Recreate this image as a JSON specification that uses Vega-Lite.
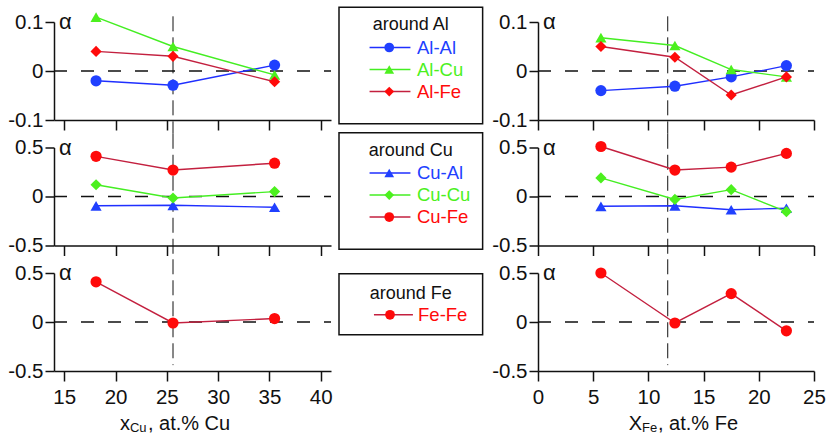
{
  "$schema": "https://vega.github.io/schema/vega-lite/v6.json",
  "padding": {"left": 7, "top": 6, "right": 5, "bottom": 0},
  "columns": 3,
  "spacing": {"row": 27.5, "column": 8},
  "bounds": "flush",
  "align": "each",
  "resolve": {"scale": {"x": "independent", "y": "independent"}},
  "datasets": {
    "alpha": [
      {"comp": "Cu", "center": "Al", "pair": "Al-Al", "partner": "Al", "x": 18.1, "alpha": -0.02},
      {"comp": "Cu", "center": "Al", "pair": "Al-Al", "partner": "Al", "x": 25.6, "alpha": -0.029},
      {"comp": "Cu", "center": "Al", "pair": "Al-Al", "partner": "Al", "x": 35.5, "alpha": 0.012},
      {"comp": "Cu", "center": "Al", "pair": "Al-Cu", "partner": "Cu", "x": 18.1, "alpha": 0.11},
      {"comp": "Cu", "center": "Al", "pair": "Al-Cu", "partner": "Cu", "x": 25.6, "alpha": 0.05},
      {"comp": "Cu", "center": "Al", "pair": "Al-Cu", "partner": "Cu", "x": 35.5, "alpha": -0.008},
      {"comp": "Cu", "center": "Al", "pair": "Al-Fe", "partner": "Fe", "x": 18.1, "alpha": 0.04},
      {"comp": "Cu", "center": "Al", "pair": "Al-Fe", "partner": "Fe", "x": 25.6, "alpha": 0.03},
      {"comp": "Cu", "center": "Al", "pair": "Al-Fe", "partner": "Fe", "x": 35.5, "alpha": -0.022},
      {"comp": "Cu", "center": "Cu", "pair": "Cu-Al", "partner": "Al", "x": 18.1, "alpha": -0.095},
      {"comp": "Cu", "center": "Cu", "pair": "Cu-Al", "partner": "Al", "x": 25.6, "alpha": -0.09},
      {"comp": "Cu", "center": "Cu", "pair": "Cu-Al", "partner": "Al", "x": 35.5, "alpha": -0.11},
      {"comp": "Cu", "center": "Cu", "pair": "Cu-Cu", "partner": "Cu", "x": 18.1, "alpha": 0.12},
      {"comp": "Cu", "center": "Cu", "pair": "Cu-Cu", "partner": "Cu", "x": 25.6, "alpha": -0.015},
      {"comp": "Cu", "center": "Cu", "pair": "Cu-Cu", "partner": "Cu", "x": 35.5, "alpha": 0.05},
      {"comp": "Cu", "center": "Cu", "pair": "Cu-Fe", "partner": "Fe", "x": 18.1, "alpha": 0.41},
      {"comp": "Cu", "center": "Cu", "pair": "Cu-Fe", "partner": "Fe", "x": 25.6, "alpha": 0.27},
      {"comp": "Cu", "center": "Cu", "pair": "Cu-Fe", "partner": "Fe", "x": 35.5, "alpha": 0.34},
      {"comp": "Cu", "center": "Fe", "pair": "Fe-Fe", "partner": "Fe", "x": 18.1, "alpha": 0.41},
      {"comp": "Cu", "center": "Fe", "pair": "Fe-Fe", "partner": "Fe", "x": 25.6, "alpha": -0.01},
      {"comp": "Cu", "center": "Fe", "pair": "Fe-Fe", "partner": "Fe", "x": 35.5, "alpha": 0.035},
      {"comp": "Fe", "center": "Al", "pair": "Al-Al", "partner": "Al", "x": 5.7, "alpha": -0.04},
      {"comp": "Fe", "center": "Al", "pair": "Al-Al", "partner": "Al", "x": 12.4, "alpha": -0.031},
      {"comp": "Fe", "center": "Al", "pair": "Al-Al", "partner": "Al", "x": 17.5, "alpha": -0.012},
      {"comp": "Fe", "center": "Al", "pair": "Al-Al", "partner": "Al", "x": 22.5, "alpha": 0.011},
      {"comp": "Fe", "center": "Al", "pair": "Al-Cu", "partner": "Cu", "x": 5.7, "alpha": 0.068},
      {"comp": "Fe", "center": "Al", "pair": "Al-Cu", "partner": "Cu", "x": 12.4, "alpha": 0.052},
      {"comp": "Fe", "center": "Al", "pair": "Al-Cu", "partner": "Cu", "x": 17.5, "alpha": 0.003},
      {"comp": "Fe", "center": "Al", "pair": "Al-Cu", "partner": "Cu", "x": 22.5, "alpha": -0.012},
      {"comp": "Fe", "center": "Al", "pair": "Al-Fe", "partner": "Fe", "x": 5.7, "alpha": 0.05},
      {"comp": "Fe", "center": "Al", "pair": "Al-Fe", "partner": "Fe", "x": 12.4, "alpha": 0.028},
      {"comp": "Fe", "center": "Al", "pair": "Al-Fe", "partner": "Fe", "x": 17.5, "alpha": -0.049},
      {"comp": "Fe", "center": "Al", "pair": "Al-Fe", "partner": "Fe", "x": 22.5, "alpha": -0.012},
      {"comp": "Fe", "center": "Cu", "pair": "Cu-Al", "partner": "Al", "x": 5.7, "alpha": -0.1},
      {"comp": "Fe", "center": "Cu", "pair": "Cu-Al", "partner": "Al", "x": 12.4, "alpha": -0.095},
      {"comp": "Fe", "center": "Cu", "pair": "Cu-Al", "partner": "Al", "x": 17.5, "alpha": -0.135},
      {"comp": "Fe", "center": "Cu", "pair": "Cu-Al", "partner": "Al", "x": 22.5, "alpha": -0.12},
      {"comp": "Fe", "center": "Cu", "pair": "Cu-Cu", "partner": "Cu", "x": 5.7, "alpha": 0.19},
      {"comp": "Fe", "center": "Cu", "pair": "Cu-Cu", "partner": "Cu", "x": 12.4, "alpha": -0.03},
      {"comp": "Fe", "center": "Cu", "pair": "Cu-Cu", "partner": "Cu", "x": 17.5, "alpha": 0.07},
      {"comp": "Fe", "center": "Cu", "pair": "Cu-Cu", "partner": "Cu", "x": 22.5, "alpha": -0.155},
      {"comp": "Fe", "center": "Cu", "pair": "Cu-Fe", "partner": "Fe", "x": 5.7, "alpha": 0.51},
      {"comp": "Fe", "center": "Cu", "pair": "Cu-Fe", "partner": "Fe", "x": 12.4, "alpha": 0.27},
      {"comp": "Fe", "center": "Cu", "pair": "Cu-Fe", "partner": "Fe", "x": 17.5, "alpha": 0.3},
      {"comp": "Fe", "center": "Cu", "pair": "Cu-Fe", "partner": "Fe", "x": 22.5, "alpha": 0.44},
      {"comp": "Fe", "center": "Fe", "pair": "Fe-Fe", "partner": "Fe", "x": 5.7, "alpha": 0.5},
      {"comp": "Fe", "center": "Fe", "pair": "Fe-Fe", "partner": "Fe", "x": 12.4, "alpha": -0.01},
      {"comp": "Fe", "center": "Fe", "pair": "Fe-Fe", "partner": "Fe", "x": 17.5, "alpha": 0.29},
      {"comp": "Fe", "center": "Fe", "pair": "Fe-Fe", "partner": "Fe", "x": 22.5, "alpha": -0.09}
    ],
    "legend": [
      {"center": "Al", "pair": "Al-Al", "partner": "Al", "order": 1},
      {"center": "Al", "pair": "Al-Cu", "partner": "Cu", "order": 2},
      {"center": "Al", "pair": "Al-Fe", "partner": "Fe", "order": 3},
      {"center": "Cu", "pair": "Cu-Al", "partner": "Al", "order": 1},
      {"center": "Cu", "pair": "Cu-Cu", "partner": "Cu", "order": 2},
      {"center": "Cu", "pair": "Cu-Fe", "partner": "Fe", "order": 3},
      {"center": "Fe", "pair": "Fe-Fe", "partner": "Fe", "order": 1}
    ],
    "titles": [
      {"center": "Al", "title": "around Al"},
      {"center": "Cu", "title": "around Cu"},
      {"center": "Fe", "title": "around Fe"}
    ]
  },
  "concat": [
    {
      "width": 277, "height": 98,
      "layer": [
        {"data": {"values": [{}]}, "mark": {"type": "rule", "color": "#111", "strokeWidth": 1.5, "strokeDash": [13, 14]}, "encoding": {"x": {"datum": 14}, "x2": {"datum": 41}, "y": {"datum": 0}}},
        {"data": {"values": [{}]}, "mark": {"type": "rule", "color": "#111", "strokeWidth": 1, "strokeDash": [15, 6]}, "encoding": {"x": {"datum": 25.6}, "y": {"datum": 0.1116}, "y2": {"datum": -0.128}}},
        {"data": {"name": "alpha"}, "transform": [{"filter": "datum.comp == 'Cu' && datum.center == 'Al'"}],
          "mark": {"type": "line", "strokeWidth": 1.4},
          "encoding": {
            "x": {"field": "x", "type": "quantitative", "title": null, "scale": {"domain": [14, 41], "nice": false, "zero": false},
              "axis": {"title": null, "labels": false, "values": [15, 17.5, 20, 22.5, 25, 27.5, 30, 32.5, 35, 37.5, 40], "tickSize": {"condition": {"test": "datum.value % 5 == 0", "value": 10}, "value": 6}}},
            "y": {"field": "alpha", "type": "quantitative", "title": null, "scale": {"domain": [-0.1, 0.1], "nice": false, "zero": false},
              "axis": {"title": null, "values": [-0.1, -0.05, 0, 0.05, 0.1], "labelPadding": 2, "labelExpr": "abs(datum.value*10 - round(datum.value*10)) < 0.000001 ? '' + datum.value : ''", "tickSize": {"condition": {"test": "abs(datum.value*10 - round(datum.value*10)) < 0.000001", "value": 9}, "value": 5}}},
            "stroke": {"field": "partner", "type": "nominal", "scale": {"domain": ["Al", "Cu", "Fe"], "range": ["#1f2fff", "#44ee22", "#c3203f"]}, "legend": null},
            "detail": {"field": "pair"}
          }},
        {"data": {"name": "alpha"}, "transform": [{"filter": "datum.comp == 'Cu' && datum.center == 'Al'"}],
          "mark": {"type": "point", "filled": true, "size": 125, "opacity": 1, "strokeWidth": 0},
          "encoding": {
            "x": {"field": "x", "type": "quantitative", "title": null},
            "y": {"field": "alpha", "type": "quantitative", "title": null},
            "shape": {"field": "pair", "type": "nominal", "scale": {"domain": ["Al-Al", "Al-Cu", "Al-Fe", "Cu-Al", "Cu-Cu", "Cu-Fe", "Fe-Fe"], "range": ["circle", "triangle-up", "diamond", "triangle-up", "diamond", "circle", "circle"]}, "legend": null},
            "color": {"field": "partner", "type": "nominal", "scale": {"domain": ["Al", "Cu", "Fe"], "range": ["#2040ff", "#4cf01e", "#ff0a0a"]}, "legend": null}
          }},
        {"data": {"values": [{}]}, "mark": {"type": "text", "text": "α", "fontSize": 22, "align": "left", "baseline": "middle", "dx": 5}, "encoding": {"x": {"datum": 14}, "y": {"datum": 0.1}}}
      ]
    },
    {
      "width": 191, "height": 98,
      "layer": [
        {"data": {"values": [{}]}, "mark": {"type": "rect", "fill": null, "stroke": "#111", "strokeWidth": 1.5},
          "encoding": {"x": {"datum": 0, "scale": {"domain": [0, 100], "nice": false, "zero": false}, "axis": null}, "x2": {"datum": 75.2}, "y": {"datum": -0.832, "scale": {"domain": [-0.159, 4.295], "reverse": true, "nice": false, "zero": false}, "axis": null}, "y2": {"datum": 4.468}}},
        {"data": {"name": "titles"}, "transform": [{"filter": "datum.center == 'Al'"}], "mark": {"type": "text", "fontSize": 18, "align": "center", "baseline": "middle"},
          "encoding": {"x": {"datum": 37.6, "axis": null}, "y": {"datum": 0, "axis": null}, "text": {"field": "title"}}},
        {"data": {"name": "legend"}, "transform": [{"filter": "datum.center == 'Al'"}], "mark": {"type": "rule", "strokeWidth": 1.5},
          "encoding": {"x": {"datum": 16, "axis": null}, "x2": {"datum": 37.4}, "y": {"field": "order", "type": "quantitative", "axis": null},
            "stroke": {"field": "partner", "type": "nominal", "scale": {"domain": ["Al", "Cu", "Fe"], "range": ["#1f2fff", "#44ee22", "#c3203f"]}, "legend": null}}},
        {"data": {"name": "legend"}, "transform": [{"filter": "datum.center == 'Al'"}], "mark": {"type": "point", "filled": true, "size": 95, "opacity": 1, "strokeWidth": 0},
          "encoding": {"x": {"datum": 26.3, "axis": null}, "y": {"field": "order", "type": "quantitative", "axis": null},
            "shape": {"field": "pair", "type": "nominal", "scale": {"domain": ["Al-Al", "Al-Cu", "Al-Fe", "Cu-Al", "Cu-Cu", "Cu-Fe", "Fe-Fe"], "range": ["circle", "triangle-up", "diamond", "triangle-up", "diamond", "circle", "circle"]}, "legend": null},
            "color": {"field": "partner", "type": "nominal", "scale": {"domain": ["Al", "Cu", "Fe"], "range": ["#2040ff", "#4cf01e", "#ff0a0a"]}, "legend": null}}},
        {"data": {"name": "legend"}, "transform": [{"filter": "datum.center == 'Al'"}], "mark": {"type": "text", "fontSize": 18.5, "align": "left", "baseline": "middle"},
          "encoding": {"x": {"datum": 40.8, "axis": null}, "y": {"field": "order", "type": "quantitative", "axis": null}, "text": {"field": "pair"},
            "color": {"field": "partner", "type": "nominal", "scale": {"domain": ["Al", "Cu", "Fe"], "range": ["#2040ff", "#4cf01e", "#ff0a0a"]}, "legend": null}}}
      ]
    },
    {
      "width": 276, "height": 98,
      "layer": [
        {"data": {"values": [{}]}, "mark": {"type": "rule", "color": "#111", "strokeWidth": 1.5, "strokeDash": [13, 14]}, "encoding": {"x": {"datum": 0}, "x2": {"datum": 25}, "y": {"datum": 0}}},
        {"data": {"values": [{}]}, "mark": {"type": "rule", "color": "#111", "strokeWidth": 1, "strokeDash": [15, 6]}, "encoding": {"x": {"datum": 11.75}, "y": {"datum": 0.1116}, "y2": {"datum": -0.128}}},
        {"data": {"name": "alpha"}, "transform": [{"filter": "datum.comp == 'Fe' && datum.center == 'Al'"}],
          "mark": {"type": "line", "strokeWidth": 1.4},
          "encoding": {
            "x": {"field": "x", "type": "quantitative", "title": null, "scale": {"domain": [0, 25], "nice": false, "zero": false},
              "axis": {"title": null, "labels": false, "values": [0, 2.5, 5, 7.5, 10, 12.5, 15, 17.5, 20, 22.5, 25], "tickSize": {"condition": {"test": "datum.value % 5 == 0", "value": 10}, "value": 6}}},
            "y": {"field": "alpha", "type": "quantitative", "title": null, "scale": {"domain": [-0.1, 0.1], "nice": false, "zero": false},
              "axis": {"title": null, "values": [-0.1, -0.05, 0, 0.05, 0.1], "labelPadding": 2, "labelExpr": "abs(datum.value*10 - round(datum.value*10)) < 0.000001 ? '' + datum.value : ''", "tickSize": {"condition": {"test": "abs(datum.value*10 - round(datum.value*10)) < 0.000001", "value": 9}, "value": 5}}},
            "stroke": {"field": "partner", "type": "nominal", "scale": {"domain": ["Al", "Cu", "Fe"], "range": ["#1f2fff", "#44ee22", "#c3203f"]}, "legend": null},
            "detail": {"field": "pair"}
          }},
        {"data": {"name": "alpha"}, "transform": [{"filter": "datum.comp == 'Fe' && datum.center == 'Al'"}],
          "mark": {"type": "point", "filled": true, "size": 125, "opacity": 1, "strokeWidth": 0},
          "encoding": {
            "x": {"field": "x", "type": "quantitative", "title": null},
            "y": {"field": "alpha", "type": "quantitative", "title": null},
            "shape": {"field": "pair", "type": "nominal", "scale": {"domain": ["Al-Al", "Al-Cu", "Al-Fe", "Cu-Al", "Cu-Cu", "Cu-Fe", "Fe-Fe"], "range": ["circle", "triangle-up", "diamond", "triangle-up", "diamond", "circle", "circle"]}, "legend": null},
            "color": {"field": "partner", "type": "nominal", "scale": {"domain": ["Al", "Cu", "Fe"], "range": ["#2040ff", "#4cf01e", "#ff0a0a"]}, "legend": null}
          }},
        {"data": {"values": [{}]}, "mark": {"type": "text", "text": "α", "fontSize": 22, "align": "left", "baseline": "middle", "dx": 5}, "encoding": {"x": {"datum": 0}, "y": {"datum": 0.1}}}
      ]
    },
    {
      "width": 277, "height": 98,
      "layer": [
        {"data": {"values": [{}]}, "mark": {"type": "rule", "color": "#111", "strokeWidth": 1.5, "strokeDash": [13, 14]}, "encoding": {"x": {"datum": 14}, "x2": {"datum": 41}, "y": {"datum": 0}}},
        {"data": {"values": [{}]}, "mark": {"type": "rule", "color": "#111", "strokeWidth": 1, "strokeDash": [15, 6]}, "encoding": {"x": {"datum": 25.6}, "y": {"datum": 0.64}, "y2": {"datum": -0.64}}},
        {"data": {"name": "alpha"}, "transform": [{"filter": "datum.comp == 'Cu' && datum.center == 'Cu'"}],
          "mark": {"type": "line", "strokeWidth": 1.4},
          "encoding": {
            "x": {"field": "x", "type": "quantitative", "title": null, "scale": {"domain": [14, 41], "nice": false, "zero": false},
              "axis": {"title": null, "labels": false, "values": [15, 17.5, 20, 22.5, 25, 27.5, 30, 32.5, 35, 37.5, 40], "tickSize": {"condition": {"test": "datum.value % 5 == 0", "value": 10}, "value": 6}}},
            "y": {"field": "alpha", "type": "quantitative", "title": null, "scale": {"domain": [-0.5, 0.5], "nice": false, "zero": false},
              "axis": {"title": null, "values": [-0.5, -0.25, 0, 0.25, 0.5], "labelPadding": 2, "labelExpr": "abs(datum.value*2 - round(datum.value*2)) < 0.000001 ? '' + datum.value : ''", "tickSize": {"condition": {"test": "abs(datum.value*2 - round(datum.value*2)) < 0.000001", "value": 9}, "value": 5}}},
            "stroke": {"field": "partner", "type": "nominal", "scale": {"domain": ["Al", "Cu", "Fe"], "range": ["#1f2fff", "#44ee22", "#c3203f"]}, "legend": null},
            "detail": {"field": "pair"}
          }},
        {"data": {"name": "alpha"}, "transform": [{"filter": "datum.comp == 'Cu' && datum.center == 'Cu'"}],
          "mark": {"type": "point", "filled": true, "size": 125, "opacity": 1, "strokeWidth": 0},
          "encoding": {
            "x": {"field": "x", "type": "quantitative", "title": null},
            "y": {"field": "alpha", "type": "quantitative", "title": null},
            "shape": {"field": "pair", "type": "nominal", "scale": {"domain": ["Al-Al", "Al-Cu", "Al-Fe", "Cu-Al", "Cu-Cu", "Cu-Fe", "Fe-Fe"], "range": ["circle", "triangle-up", "diamond", "triangle-up", "diamond", "circle", "circle"]}, "legend": null},
            "color": {"field": "partner", "type": "nominal", "scale": {"domain": ["Al", "Cu", "Fe"], "range": ["#2040ff", "#4cf01e", "#ff0a0a"]}, "legend": null}
          }},
        {"data": {"values": [{}]}, "mark": {"type": "text", "text": "α", "fontSize": 22, "align": "left", "baseline": "middle", "dx": 5}, "encoding": {"x": {"datum": 14}, "y": {"datum": 0.5}}}
      ]
    },
    {
      "width": 191, "height": 98,
      "layer": [
        {"data": {"values": [{}]}, "mark": {"type": "rect", "fill": null, "stroke": "#111", "strokeWidth": 1.5},
          "encoding": {"x": {"datum": 0, "scale": {"domain": [0, 100], "nice": false, "zero": false}, "axis": null}, "x2": {"datum": 75.2}, "y": {"datum": -0.832, "scale": {"domain": [-0.159, 4.295], "reverse": true, "nice": false, "zero": false}, "axis": null}, "y2": {"datum": 4.468}}},
        {"data": {"name": "titles"}, "transform": [{"filter": "datum.center == 'Cu'"}], "mark": {"type": "text", "fontSize": 18, "align": "center", "baseline": "middle"},
          "encoding": {"x": {"datum": 37.6, "axis": null}, "y": {"datum": 0, "axis": null}, "text": {"field": "title"}}},
        {"data": {"name": "legend"}, "transform": [{"filter": "datum.center == 'Cu'"}], "mark": {"type": "rule", "strokeWidth": 1.5},
          "encoding": {"x": {"datum": 16, "axis": null}, "x2": {"datum": 37.4}, "y": {"field": "order", "type": "quantitative", "axis": null},
            "stroke": {"field": "partner", "type": "nominal", "scale": {"domain": ["Al", "Cu", "Fe"], "range": ["#1f2fff", "#44ee22", "#c3203f"]}, "legend": null}}},
        {"data": {"name": "legend"}, "transform": [{"filter": "datum.center == 'Cu'"}], "mark": {"type": "point", "filled": true, "size": 95, "opacity": 1, "strokeWidth": 0},
          "encoding": {"x": {"datum": 26.3, "axis": null}, "y": {"field": "order", "type": "quantitative", "axis": null},
            "shape": {"field": "pair", "type": "nominal", "scale": {"domain": ["Al-Al", "Al-Cu", "Al-Fe", "Cu-Al", "Cu-Cu", "Cu-Fe", "Fe-Fe"], "range": ["circle", "triangle-up", "diamond", "triangle-up", "diamond", "circle", "circle"]}, "legend": null},
            "color": {"field": "partner", "type": "nominal", "scale": {"domain": ["Al", "Cu", "Fe"], "range": ["#2040ff", "#4cf01e", "#ff0a0a"]}, "legend": null}}},
        {"data": {"name": "legend"}, "transform": [{"filter": "datum.center == 'Cu'"}], "mark": {"type": "text", "fontSize": 18.5, "align": "left", "baseline": "middle"},
          "encoding": {"x": {"datum": 40.8, "axis": null}, "y": {"field": "order", "type": "quantitative", "axis": null}, "text": {"field": "pair"},
            "color": {"field": "partner", "type": "nominal", "scale": {"domain": ["Al", "Cu", "Fe"], "range": ["#2040ff", "#4cf01e", "#ff0a0a"]}, "legend": null}}}
      ]
    },
    {
      "width": 276, "height": 98,
      "layer": [
        {"data": {"values": [{}]}, "mark": {"type": "rule", "color": "#111", "strokeWidth": 1.5, "strokeDash": [13, 14]}, "encoding": {"x": {"datum": 0}, "x2": {"datum": 25}, "y": {"datum": 0}}},
        {"data": {"values": [{}]}, "mark": {"type": "rule", "color": "#111", "strokeWidth": 1, "strokeDash": [15, 6]}, "encoding": {"x": {"datum": 11.75}, "y": {"datum": 0.64}, "y2": {"datum": -0.64}}},
        {"data": {"name": "alpha"}, "transform": [{"filter": "datum.comp == 'Fe' && datum.center == 'Cu'"}],
          "mark": {"type": "line", "strokeWidth": 1.4},
          "encoding": {
            "x": {"field": "x", "type": "quantitative", "title": null, "scale": {"domain": [0, 25], "nice": false, "zero": false},
              "axis": {"title": null, "labels": false, "values": [0, 2.5, 5, 7.5, 10, 12.5, 15, 17.5, 20, 22.5, 25], "tickSize": {"condition": {"test": "datum.value % 5 == 0", "value": 10}, "value": 6}}},
            "y": {"field": "alpha", "type": "quantitative", "title": null, "scale": {"domain": [-0.5, 0.5], "nice": false, "zero": false},
              "axis": {"title": null, "values": [-0.5, -0.25, 0, 0.25, 0.5], "labelPadding": 2, "labelExpr": "abs(datum.value*2 - round(datum.value*2)) < 0.000001 ? '' + datum.value : ''", "tickSize": {"condition": {"test": "abs(datum.value*2 - round(datum.value*2)) < 0.000001", "value": 9}, "value": 5}}},
            "stroke": {"field": "partner", "type": "nominal", "scale": {"domain": ["Al", "Cu", "Fe"], "range": ["#1f2fff", "#44ee22", "#c3203f"]}, "legend": null},
            "detail": {"field": "pair"}
          }},
        {"data": {"name": "alpha"}, "transform": [{"filter": "datum.comp == 'Fe' && datum.center == 'Cu'"}],
          "mark": {"type": "point", "filled": true, "size": 125, "opacity": 1, "strokeWidth": 0},
          "encoding": {
            "x": {"field": "x", "type": "quantitative", "title": null},
            "y": {"field": "alpha", "type": "quantitative", "title": null},
            "shape": {"field": "pair", "type": "nominal", "scale": {"domain": ["Al-Al", "Al-Cu", "Al-Fe", "Cu-Al", "Cu-Cu", "Cu-Fe", "Fe-Fe"], "range": ["circle", "triangle-up", "diamond", "triangle-up", "diamond", "circle", "circle"]}, "legend": null},
            "color": {"field": "partner", "type": "nominal", "scale": {"domain": ["Al", "Cu", "Fe"], "range": ["#2040ff", "#4cf01e", "#ff0a0a"]}, "legend": null}
          }},
        {"data": {"values": [{}]}, "mark": {"type": "text", "text": "α", "fontSize": 22, "align": "left", "baseline": "middle", "dx": 5}, "encoding": {"x": {"datum": 0}, "y": {"datum": 0.5}}}
      ]
    },
    {
      "width": 277, "height": 98,
      "layer": [
        {"data": {"values": [{}]}, "mark": {"type": "rule", "color": "#111", "strokeWidth": 1.5, "strokeDash": [13, 14]}, "encoding": {"x": {"datum": 14}, "x2": {"datum": 41}, "y": {"datum": 0}}},
        {"data": {"values": [{}]}, "mark": {"type": "rule", "color": "#111", "strokeWidth": 1, "strokeDash": [15, 6]}, "encoding": {"x": {"datum": 25.6}, "y": {"datum": 0.64}, "y2": {"datum": -0.44}}},
        {"data": {"name": "alpha"}, "transform": [{"filter": "datum.comp == 'Cu' && datum.center == 'Fe'"}],
          "mark": {"type": "line", "strokeWidth": 1.4},
          "encoding": {
            "x": {"field": "x", "type": "quantitative", "title": null, "scale": {"domain": [14, 41], "nice": false, "zero": false},
              "axis": {"title": null, "labelPadding": 6, "values": [15, 17.5, 20, 22.5, 25, 27.5, 30, 32.5, 35, 37.5, 40], "labelExpr": "datum.value % 5 == 0 ? '' + datum.value : ''", "tickSize": {"condition": {"test": "datum.value % 5 == 0", "value": 10}, "value": 6}}},
            "y": {"field": "alpha", "type": "quantitative", "title": null, "scale": {"domain": [-0.5, 0.5], "nice": false, "zero": false},
              "axis": {"title": null, "values": [-0.5, -0.25, 0, 0.25, 0.5], "labelPadding": 2, "labelExpr": "abs(datum.value*2 - round(datum.value*2)) < 0.000001 ? '' + datum.value : ''", "tickSize": {"condition": {"test": "abs(datum.value*2 - round(datum.value*2)) < 0.000001", "value": 9}, "value": 5}}},
            "stroke": {"field": "partner", "type": "nominal", "scale": {"domain": ["Al", "Cu", "Fe"], "range": ["#1f2fff", "#44ee22", "#c3203f"]}, "legend": null},
            "detail": {"field": "pair"}
          }},
        {"data": {"name": "alpha"}, "transform": [{"filter": "datum.comp == 'Cu' && datum.center == 'Fe'"}],
          "mark": {"type": "point", "filled": true, "size": 125, "opacity": 1, "strokeWidth": 0},
          "encoding": {
            "x": {"field": "x", "type": "quantitative", "title": null},
            "y": {"field": "alpha", "type": "quantitative", "title": null},
            "shape": {"field": "pair", "type": "nominal", "scale": {"domain": ["Al-Al", "Al-Cu", "Al-Fe", "Cu-Al", "Cu-Cu", "Cu-Fe", "Fe-Fe"], "range": ["circle", "triangle-up", "diamond", "triangle-up", "diamond", "circle", "circle"]}, "legend": null},
            "color": {"field": "partner", "type": "nominal", "scale": {"domain": ["Al", "Cu", "Fe"], "range": ["#2040ff", "#4cf01e", "#ff0a0a"]}, "legend": null}
          }},
        {"data": {"values": [{}]}, "mark": {"type": "text", "text": "α", "fontSize": 22, "align": "left", "baseline": "middle", "dx": 5}, "encoding": {"x": {"datum": 14}, "y": {"datum": 0.5}}},
        {"data": {"values": [{}]}, "mark": {"type": "text", "text": "x", "fontSize": 20, "align": "right", "baseline": "alphabetic", "dy": 59}, "encoding": {"x": {"datum": 21.4}, "y": {"datum": -0.5}}},
        {"data": {"values": [{}]}, "mark": {"type": "text", "text": "Cu", "fontSize": 13, "align": "left", "baseline": "alphabetic", "dy": 61}, "encoding": {"x": {"datum": 21.4}, "y": {"datum": -0.5}}},
        {"data": {"values": [{}]}, "mark": {"type": "text", "text": ", at.% Cu", "fontSize": 20, "align": "left", "baseline": "alphabetic", "dx": 18, "dy": 59}, "encoding": {"x": {"datum": 21.4}, "y": {"datum": -0.5}}}
      ]
    },
    {
      "width": 191, "height": 98,
      "layer": [
        {"data": {"values": [{}]}, "mark": {"type": "rect", "fill": null, "stroke": "#111", "strokeWidth": 1.5},
          "encoding": {"x": {"datum": 0, "scale": {"domain": [0, 100], "nice": false, "zero": false}, "axis": null}, "x2": {"datum": 75.2}, "y": {"datum": -0.952, "scale": {"domain": [-0.99, 3.676], "reverse": true, "nice": false, "zero": false}, "axis": null}, "y2": {"datum": 1.952}}},
        {"data": {"name": "titles"}, "transform": [{"filter": "datum.center == 'Fe'"}], "mark": {"type": "text", "fontSize": 18, "align": "center", "baseline": "middle"},
          "encoding": {"x": {"datum": 37.6, "axis": null}, "y": {"datum": 0, "axis": null}, "text": {"field": "title"}}},
        {"data": {"name": "legend"}, "transform": [{"filter": "datum.center == 'Fe'"}], "mark": {"type": "rule", "strokeWidth": 1.5},
          "encoding": {"x": {"datum": 18.3, "axis": null}, "x2": {"datum": 38.7}, "y": {"field": "order", "type": "quantitative", "axis": null},
            "stroke": {"field": "partner", "type": "nominal", "scale": {"domain": ["Al", "Cu", "Fe"], "range": ["#1f2fff", "#44ee22", "#c3203f"]}, "legend": null}}},
        {"data": {"name": "legend"}, "transform": [{"filter": "datum.center == 'Fe'"}], "mark": {"type": "point", "filled": true, "size": 95, "opacity": 1, "strokeWidth": 0},
          "encoding": {"x": {"datum": 26.7, "axis": null}, "y": {"field": "order", "type": "quantitative", "axis": null},
            "shape": {"field": "pair", "type": "nominal", "scale": {"domain": ["Al-Al", "Al-Cu", "Al-Fe", "Cu-Al", "Cu-Cu", "Cu-Fe", "Fe-Fe"], "range": ["circle", "triangle-up", "diamond", "triangle-up", "diamond", "circle", "circle"]}, "legend": null},
            "color": {"field": "partner", "type": "nominal", "scale": {"domain": ["Al", "Cu", "Fe"], "range": ["#2040ff", "#4cf01e", "#ff0a0a"]}, "legend": null}}},
        {"data": {"name": "legend"}, "transform": [{"filter": "datum.center == 'Fe'"}], "mark": {"type": "text", "fontSize": 18.5, "align": "left", "baseline": "middle"},
          "encoding": {"x": {"datum": 41.4, "axis": null}, "y": {"field": "order", "type": "quantitative", "axis": null}, "text": {"field": "pair"},
            "color": {"field": "partner", "type": "nominal", "scale": {"domain": ["Al", "Cu", "Fe"], "range": ["#2040ff", "#4cf01e", "#ff0a0a"]}, "legend": null}}}
      ]
    },
    {
      "width": 276, "height": 98,
      "layer": [
        {"data": {"values": [{}]}, "mark": {"type": "rule", "color": "#111", "strokeWidth": 1.5, "strokeDash": [13, 14]}, "encoding": {"x": {"datum": 0}, "x2": {"datum": 25}, "y": {"datum": 0}}},
        {"data": {"values": [{}]}, "mark": {"type": "rule", "color": "#111", "strokeWidth": 1, "strokeDash": [15, 6]}, "encoding": {"x": {"datum": 11.75}, "y": {"datum": 0.64}, "y2": {"datum": -0.44}}},
        {"data": {"name": "alpha"}, "transform": [{"filter": "datum.comp == 'Fe' && datum.center == 'Fe'"}],
          "mark": {"type": "line", "strokeWidth": 1.4},
          "encoding": {
            "x": {"field": "x", "type": "quantitative", "title": null, "scale": {"domain": [0, 25], "nice": false, "zero": false},
              "axis": {"title": null, "labelPadding": 6, "values": [0, 2.5, 5, 7.5, 10, 12.5, 15, 17.5, 20, 22.5, 25], "labelExpr": "datum.value % 5 == 0 ? '' + datum.value : ''", "tickSize": {"condition": {"test": "datum.value % 5 == 0", "value": 10}, "value": 6}}},
            "y": {"field": "alpha", "type": "quantitative", "title": null, "scale": {"domain": [-0.5, 0.5], "nice": false, "zero": false},
              "axis": {"title": null, "values": [-0.5, -0.25, 0, 0.25, 0.5], "labelPadding": 2, "labelExpr": "abs(datum.value*2 - round(datum.value*2)) < 0.000001 ? '' + datum.value : ''", "tickSize": {"condition": {"test": "abs(datum.value*2 - round(datum.value*2)) < 0.000001", "value": 9}, "value": 5}}},
            "stroke": {"field": "partner", "type": "nominal", "scale": {"domain": ["Al", "Cu", "Fe"], "range": ["#1f2fff", "#44ee22", "#c3203f"]}, "legend": null},
            "detail": {"field": "pair"}
          }},
        {"data": {"name": "alpha"}, "transform": [{"filter": "datum.comp == 'Fe' && datum.center == 'Fe'"}],
          "mark": {"type": "point", "filled": true, "size": 125, "opacity": 1, "strokeWidth": 0},
          "encoding": {
            "x": {"field": "x", "type": "quantitative", "title": null},
            "y": {"field": "alpha", "type": "quantitative", "title": null},
            "shape": {"field": "pair", "type": "nominal", "scale": {"domain": ["Al-Al", "Al-Cu", "Al-Fe", "Cu-Al", "Cu-Cu", "Cu-Fe", "Fe-Fe"], "range": ["circle", "triangle-up", "diamond", "triangle-up", "diamond", "circle", "circle"]}, "legend": null},
            "color": {"field": "partner", "type": "nominal", "scale": {"domain": ["Al", "Cu", "Fe"], "range": ["#2040ff", "#4cf01e", "#ff0a0a"]}, "legend": null}
          }},
        {"data": {"values": [{}]}, "mark": {"type": "text", "text": "α", "fontSize": 22, "align": "left", "baseline": "middle", "dx": 5}, "encoding": {"x": {"datum": 0}, "y": {"datum": 0.5}}},
        {"data": {"values": [{}]}, "mark": {"type": "text", "text": "X", "fontSize": 20, "align": "right", "baseline": "alphabetic", "dy": 59}, "encoding": {"x": {"datum": 9.42}, "y": {"datum": -0.5}}},
        {"data": {"values": [{}]}, "mark": {"type": "text", "text": "Fe", "fontSize": 13, "align": "left", "baseline": "alphabetic", "dy": 61}, "encoding": {"x": {"datum": 9.42}, "y": {"datum": -0.5}}},
        {"data": {"values": [{}]}, "mark": {"type": "text", "text": ", at.% Fe", "fontSize": 20, "align": "left", "baseline": "alphabetic", "dx": 16, "dy": 59}, "encoding": {"x": {"datum": 9.42}, "y": {"datum": -0.5}}}
      ]
    }
  ],
  "config": {
    "font": "Liberation Sans",
    "view": {"stroke": null},
    "axis": {"grid": false, "domainColor": "#111", "domainWidth": 1.5, "tickColor": "#111", "tickWidth": 1.5, "labelFont": "Liberation Sans", "labelFontSize": 20.5, "labelColor": "#111", "labelFlush": false, "labelOverlap": false},
    "text": {"font": "Liberation Sans", "color": "#111"}
  }
}
